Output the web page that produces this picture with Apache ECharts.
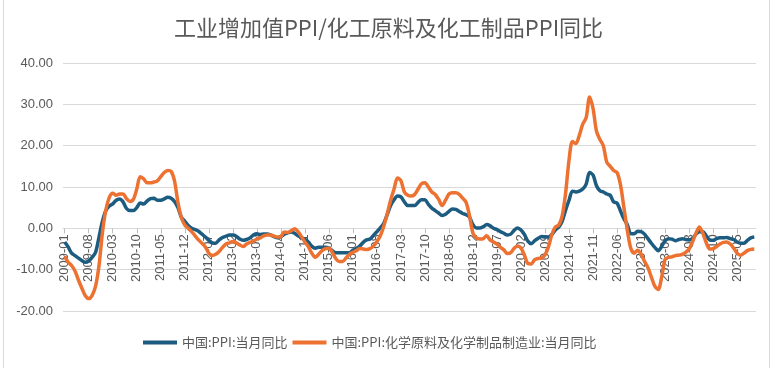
<!DOCTYPE html>
<html>
<head>
<meta charset="utf-8">
<script src="https://cdn.jsdelivr.net/npm/echarts@6/dist/echarts.min.js"></script>
<style>html,body{margin:0;padding:0;background:#fff;}#c{width:777px;height:368px;}</style>
</head>
<body>
<div id="c"></div>
<script>
// Category range: monthly 2009-01 .. 2025-10
var startYear = 2009, startMonth = 1, monthCount = 202;
var categories = [];
for (var k = 0; k < monthCount; k++) {
  var m = startMonth - 1 + k;
  var y = startYear + Math.floor(m / 12);
  var mm = (m % 12) + 1;
  categories.push(y + '-' + (mm < 10 ? '0' + mm : mm));
}

var seriesNames = ['中国:PPI:当月同比', '中国:PPI:化学原料及化学制品制造业:当月同比'];

var ppi = [
  -3.3, -4.5, -6.0, -6.6, -7.2, -7.8, -8.2, -7.9, -7.0, -5.8, -2.1, 1.7,
  4.3, 5.4, 5.9, 6.8, 7.1, 6.4, 4.8, 4.3, 4.3, 5.0, 6.1, 5.9,
  6.6, 7.2, 7.3, 6.8, 6.8, 7.1, 7.5, 7.3, 6.5, 5.0, 2.7, 1.7,
  0.7, 0.0, -0.3, -0.7, -1.4, -2.1, -2.9, -3.5, -3.6, -2.8, -2.2, -1.9,
  -1.6, -1.6, -1.9, -2.6, -2.9, -2.7, -2.3, -1.6, -1.3, -1.5, -1.4, -1.4,
  -1.6, -2.0, -2.3, -2.0, -1.4, -1.1, -0.9, -1.2, -1.8, -2.2, -2.7, -3.3,
  -4.3, -4.8, -4.6, -4.6, -4.6, -4.8, -5.4, -5.9, -5.9, -5.9, -5.9, -5.9,
  -5.3, -4.9, -4.3, -3.4, -2.8, -2.6, -1.7, -0.8, 0.1, 1.2, 3.3, 5.5,
  6.9, 7.8, 7.6, 6.4, 5.5, 5.5, 5.5, 6.3, 6.9, 6.9, 5.8, 4.9,
  4.3, 3.7, 3.1, 3.4, 4.1, 4.7, 4.6, 4.1, 3.6, 3.3, 2.7, 0.9,
  0.1, 0.1, 0.4, 0.9, 0.6, 0.0, -0.3, -0.8, -1.2, -1.6, -1.4, -0.5,
  0.1, -0.4, -1.5, -3.1, -3.7, -3.0, -2.4, -2.0, -2.1, -2.1, -1.5, -0.4,
  0.3, 1.7, 4.4, 6.8, 9.0, 8.8, 9.0, 9.5, 10.7, 13.5, 12.9, 10.3,
  9.1, 8.8, 8.3, 8.0, 6.4, 6.1, 4.2, 2.3, 0.9, -1.3, -1.3, -0.7,
  -0.8, -1.4, -2.5, -3.6, -4.6, -5.4, -4.4, -3.0, -2.5, -2.6, -3.0, -2.7,
  -2.5, -2.7, -2.8, -2.5, -1.4, -0.8, -0.8, -1.8, -2.8, -2.9, -2.5, -2.3,
  -2.3, -2.2, -2.5, -2.7, -3.3, -3.6, -3.6, -2.9, -2.3, -2.1
];

var chemPpi = [
  -6.8, -8.2, -9.0, -10.3, -12.5, -14.5, -16.3, -17.0, -16.2, -14.0, -9.0, -1.0,
  4.5, 7.5, 8.5, 8.0, 8.3, 8.3, 7.2, 6.5, 7.0, 9.5, 12.5, 12.0,
  11.0, 11.0, 11.2, 11.5, 12.5, 13.5, 14.0, 13.8, 11.5, 6.3, 2.6, 0.8,
  0.0, -0.8, -1.8, -2.8, -3.6, -4.5, -6.0, -6.6, -6.3, -5.6, -4.6, -3.8,
  -3.5, -3.2, -3.5, -4.0, -4.4, -3.8, -3.4, -3.1, -2.6, -2.3, -1.8, -1.6,
  -1.6, -1.9, -2.1, -2.0, -0.9, -1.0, -0.6, -0.1, -0.8, -2.0, -3.3, -4.4,
  -6.0, -7.0, -6.3, -5.4, -4.9, -4.8, -5.8, -7.3, -8.0, -8.0, -7.2, -6.3,
  -5.8, -5.4, -4.9, -5.0, -5.1, -4.9, -4.3, -3.2, -1.8, 0.5, 3.5, 6.8,
  9.5, 12.2, 11.5, 8.8, 8.0, 7.8, 8.2, 9.5, 10.8, 11.0, 10.0, 8.8,
  8.2, 7.0, 5.5, 6.8, 8.3, 8.6, 8.6, 8.2, 7.3, 6.3, 3.0, -1.2,
  -2.3, -2.6, -2.5, -1.8, -2.8, -3.3, -3.8, -4.6, -5.2, -6.1, -5.9, -4.8,
  -4.3, -4.8, -6.5, -8.5, -8.6, -7.6, -7.3, -7.2, -6.4, -4.5, -1.5, 0.3,
  0.8, 3.0, 8.5, 16.5, 21.0, 20.5, 22.5, 25.2, 26.8, 31.8, 29.0, 23.5,
  21.5, 20.0, 16.0, 15.0, 14.0, 13.5, 10.5, 5.0, -0.5, -4.8, -6.0, -5.3,
  -6.3, -8.0, -9.5, -11.8, -14.0, -14.8, -11.8, -7.5, -7.0, -6.9, -6.6, -6.5,
  -6.3, -5.8, -5.0, -3.3, -1.2, 0.3, -1.2, -3.5, -5.0, -4.9, -4.4, -3.8,
  -3.4, -3.3, -3.8, -4.8, -6.0, -6.5, -6.0, -5.4, -5.1, -5.0
];

var yMin = -20, yMax = 40, yStep = 10;
var titleText = '工业增加值PPI/化工原料及化工制品PPI同比';
var colors = ['#1c5c80', '#ed7130'];
var txt = '#595959';
var cjk = '"Noto Sans CJK SC", "Liberation Sans", sans-serif';

var gridTop = 63, gridBottom = 57, H = 368;
var gridH = H - gridTop - gridBottom;
// shift the category axis up so it sits on the zero line (like the reference)
var zeroOffset = -gridH * (0 - yMin) / (yMax - yMin);

var chart = echarts.init(document.getElementById('c'), null, {renderer: 'canvas'});
chart.setOption({
  animation: false,
  backgroundColor: '#ffffff',
  title: {
    text: titleText, left: 'center', top: 12,
    textStyle: {fontFamily: cjk, fontSize: 22, fontWeight: 'normal', color: txt}
  },
  graphic: [
    {type: 'line', shape: {x1: 3.5, y1: 0, x2: 3.5, y2: 368}, style: {stroke: '#d9d9d9', lineWidth: 1}},
    {type: 'line', shape: {x1: 769.5, y1: 0, x2: 769.5, y2: 368}, style: {stroke: '#d9d9d9', lineWidth: 1}}
  ],
  legend: {
    bottom: 14, left: 138, itemGap: 5, itemWidth: 34, itemHeight: 4, icon: 'rect',
    textStyle: {fontFamily: cjk, fontSize: 13, color: txt},
    data: seriesNames
  },
  grid: {left: 63, right: 21, top: gridTop, bottom: gridBottom},
  xAxis: {
    type: 'category', data: categories, boundaryGap: true, offset: zeroOffset,
    axisLine: {onZero: false, lineStyle: {color: '#d9d9d9', width: 1}},
    axisTick: {show: true, interval: 6, alignWithLabel: true, length: 5, lineStyle: {color: '#bfbfbf'}},
    axisLabel: {interval: 6, rotate: 90, margin: 6, fontFamily: '"Liberation Sans", sans-serif', fontSize: 13, color: txt}
  },
  yAxis: {
    type: 'value', min: yMin, max: yMax, interval: yStep,
    axisLine: {show: false}, axisTick: {show: false},
    axisLabel: {margin: 10, fontFamily: '"Liberation Sans", sans-serif', fontSize: 13, color: txt,
      formatter: function (v) { return v.toFixed(2); }},
    splitLine: {lineStyle: {color: '#d9d9d9', width: 1}}
  },
  series: [
    {name: seriesNames[0], type: 'line', data: ppi, showSymbol: false, smooth: 0.3,
      lineStyle: {color: colors[0], width: 3.5}, itemStyle: {color: colors[0]}},
    {name: seriesNames[1], type: 'line', data: chemPpi, showSymbol: false, smooth: 0.3,
      lineStyle: {color: colors[1], width: 3.5}, itemStyle: {color: colors[1]}}
  ]
});
</script>
</body>
</html>
